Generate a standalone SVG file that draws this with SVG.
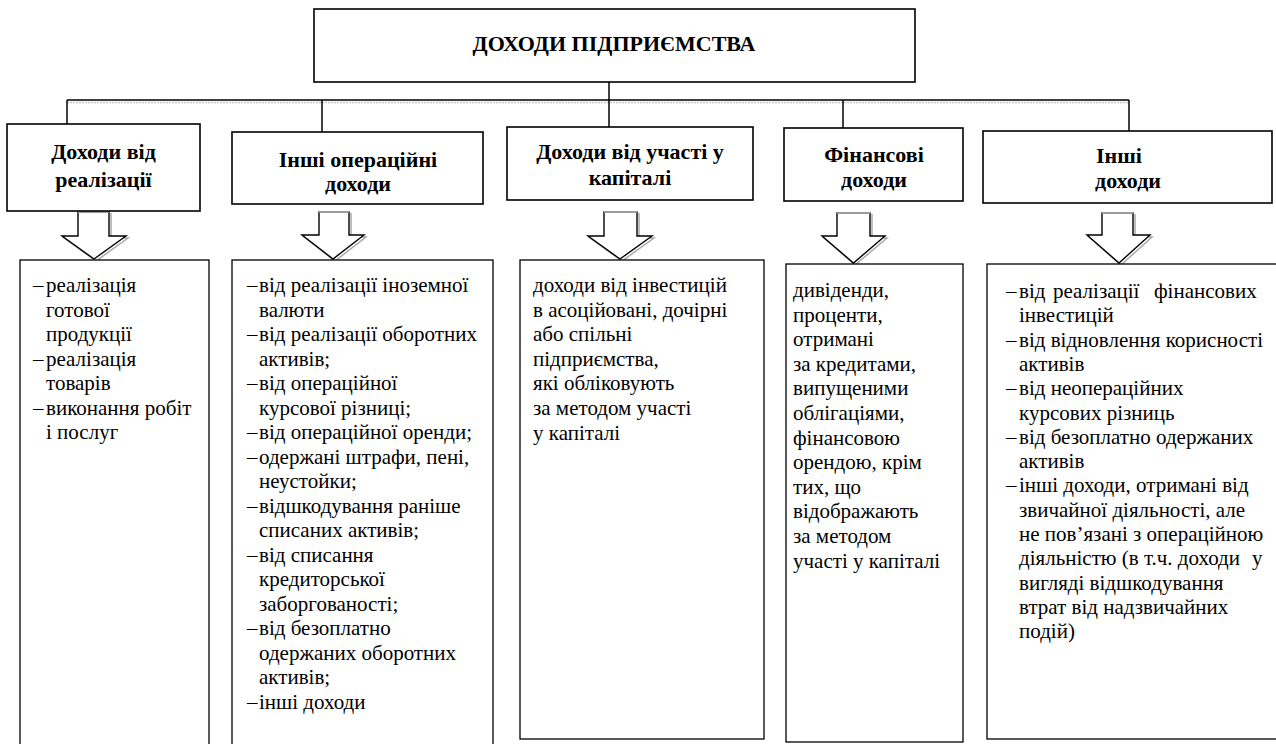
<svg xmlns="http://www.w3.org/2000/svg" width="1276" height="744" viewBox="0 0 1276 744">
<style>
  .bg{fill:#ffffff}
  .box{fill:#ffffff;stroke:#000;stroke-width:1.3}
  .hbox{fill:#ffffff;stroke:#000;stroke-width:1.6}
  .ttl{font-family:"Liberation Serif","Times New Roman",serif;font-size:22px;font-weight:bold;fill:#000;text-anchor:middle}
  .hd{font-family:"Liberation Serif","Times New Roman",serif;font-size:22px;font-weight:bold;fill:#000;text-anchor:middle}
  .tx{font-family:"Liberation Serif","Times New Roman",serif;font-size:21px;fill:#000}
  .ln{stroke:#000;stroke-width:1.5;fill:none}
  .sh{stroke:#c8c8c8;stroke-width:1.5;fill:none;stroke-dasharray:2 1}
  .arr{fill:#ffffff;stroke:#000;stroke-width:1.4;stroke-linejoin:miter}
  .arrsh{fill:none;stroke:#aaaaaa;stroke-width:1.5}
  .arrtop{stroke:#bbbbbb;stroke-width:1.5}
</style>
<rect class="bg" x="0" y="0" width="1276" height="744"/>

<g id="connectors">
  <line class="ln" x1="67" y1="100" x2="1129" y2="100"/>
  <line class="sh" x1="67" y1="102.5" x2="1129" y2="102.5"/>
  <line class="ln" x1="609" y1="82" x2="609" y2="127"/>
  <line class="ln" x1="67" y1="100" x2="67" y2="124"/>
  <line class="ln" x1="322" y1="100" x2="322" y2="132"/>
  <line class="ln" x1="843" y1="100" x2="843" y2="128"/>
  <line class="ln" x1="1129" y1="100" x2="1129" y2="131"/>
  <g id="arrow1">
    <polyline class="arrsh" points="80,213 80,238 64,238 96,261 128,238 111,238 111,213"/>
    <polygon class="arr" points="78,212 78,236 62,236 94,259 126,236 109,236 109,212"/>
    <line class="arrtop" x1="78" y1="212" x2="109" y2="212"/>
  </g>
  <g id="arrow2">
    <polyline class="arrsh" points="321,213 321,237 304,237 335,261 366,237 351,237 351,213"/>
    <polygon class="arr" points="319,212 319,235 302,235 333,259 364,235 349,235 349,212"/>
    <line class="arrtop" x1="319" y1="212" x2="349" y2="212"/>
  </g>
  <g id="arrow3">
    <polyline class="arrsh" points="606,213 606,238 590,238 622,261 654,238 639,238 639,213"/>
    <polygon class="arr" points="604,212 604,236 588,236 620,259 652,236 637,236 637,212"/>
    <line class="arrtop" x1="604" y1="212" x2="637" y2="212"/>
  </g>
  <g id="arrow4">
    <polyline class="arrsh" points="839,214 839,238 824,238 855,265 887,238 872,238 872,214"/>
    <polygon class="arr" points="837,213 837,236 822,236 853.5,263 885,236 870,236 870,213"/>
    <line class="arrtop" x1="837" y1="213" x2="870" y2="213"/>
  </g>
  <g id="arrow5">
    <polyline class="arrsh" points="1104,214 1104,237 1089,237 1121,265 1152,237 1135,237 1135,214"/>
    <polygon class="arr" points="1102,213 1102,235 1087,235 1119,263 1150,235 1133,235 1133,213"/>
    <line class="arrtop" x1="1102" y1="213" x2="1133" y2="213"/>
  </g>
</g>

<g id="root">
  <rect class="hbox" x="314" y="9" width="601" height="73"/>
  <text class="ttl" x="614" y="51">ДОХОДИ ПІДПРИЄМСТВА</text>
</g>

<g id="h1">
  <rect class="hbox" x="7" y="124" width="193" height="87"/>
  <text class="hd" x="103.5" y="159">Доходи від</text>
  <text class="hd" x="103.5" y="187">реалізації</text>
</g>
<g id="h2">
  <rect class="hbox" x="232" y="132" width="251" height="72"/>
  <text class="hd" x="358" y="167">Інші операційні</text>
  <text class="hd" x="358" y="191">доходи</text>
</g>
<g id="h3">
  <rect class="hbox" x="507" y="127" width="246" height="73"/>
  <text class="hd" x="630" y="159">Доходи від участі у</text>
  <text class="hd" x="630" y="185">капіталі</text>
</g>
<g id="h4">
  <rect class="hbox" x="784" y="128" width="179" height="73"/>
  <text class="hd" x="874" y="162">Фінансові</text>
  <text class="hd" x="874" y="187">доходи</text>
</g>
<g id="h5">
  <rect class="hbox" x="983" y="131" width="289" height="72"/>
  <text class="hd" x="1119" y="163">Інші</text>
  <text class="hd" x="1128" y="188">доходи</text>
</g>

<g id="b1">
  <rect class="box" x="20" y="260" width="189" height="492"/>
  <text class="tx"><tspan x="33" y="292">–</tspan><tspan x="46" y="292">реалізація</tspan></text>
  <text class="tx" x="46" y="316.5">готової</text>
  <text class="tx" x="46" y="341">продукції</text>
  <text class="tx"><tspan x="33" y="365.5">–</tspan><tspan x="46" y="365.5">реалізація</tspan></text>
  <text class="tx" x="46" y="390">товарів</text>
  <text class="tx"><tspan x="33" y="414.5">–</tspan><tspan x="46" y="414.5">виконання робіт</tspan></text>
  <text class="tx" x="46" y="439">і послуг</text>
</g>

<g id="b2">
  <rect class="box" x="232" y="260" width="261" height="492"/>
  <text class="tx"><tspan x="247" y="292">–</tspan><tspan x="259" y="292">від реалізації іноземної</tspan></text>
  <text class="tx" x="259" y="316.5">валюти</text>
  <text class="tx"><tspan x="247" y="341">–</tspan><tspan x="259" y="341">від реалізації оборотних</tspan></text>
  <text class="tx" x="259" y="365.5">активів;</text>
  <text class="tx"><tspan x="247" y="390">–</tspan><tspan x="259" y="390">від операційної</tspan></text>
  <text class="tx" x="259" y="414.5">курсової різниці;</text>
  <text class="tx"><tspan x="247" y="439">–</tspan><tspan x="259" y="439">від операційної оренди;</tspan></text>
  <text class="tx"><tspan x="247" y="463.5">–</tspan><tspan x="259" y="463.5">одержані штрафи, пені,</tspan></text>
  <text class="tx" x="259" y="488">неустойки;</text>
  <text class="tx"><tspan x="247" y="512.5">–</tspan><tspan x="259" y="512.5">відшкодування раніше</tspan></text>
  <text class="tx" x="259" y="537">списаних активів;</text>
  <text class="tx"><tspan x="247" y="561.5">–</tspan><tspan x="259" y="561.5">від списання</tspan></text>
  <text class="tx" x="259" y="586">кредиторської</text>
  <text class="tx" x="259" y="610.5">заборгованості;</text>
  <text class="tx"><tspan x="247" y="635">–</tspan><tspan x="259" y="635">від безоплатно</tspan></text>
  <text class="tx" x="259" y="659.5">одержаних оборотних</text>
  <text class="tx" x="259" y="684">активів;</text>
  <text class="tx"><tspan x="247" y="708.5">–</tspan><tspan x="259" y="708.5">інші доходи</tspan></text>
</g>

<g id="b3">
  <rect class="box" x="520" y="260" width="244" height="479"/>
  <text class="tx" x="533" y="292">доходи від інвестицій</text>
  <text class="tx" x="533" y="316.6">в асоційовані, дочірні</text>
  <text class="tx" x="533" y="341.2">або спільні</text>
  <text class="tx" x="533" y="365.8">підприємства,</text>
  <text class="tx" x="533" y="390.4">які обліковують</text>
  <text class="tx" x="533" y="415">за методом участі</text>
  <text class="tx" x="533" y="439.6">у капіталі</text>
</g>

<g id="b4">
  <rect class="box" x="786" y="264" width="177" height="478"/>
  <text class="tx" x="793" y="297">дивіденди,</text>
  <text class="tx" x="793" y="321.6">проценти,</text>
  <text class="tx" x="793" y="346.2">отримані</text>
  <text class="tx" x="793" y="370.8">за кредитами,</text>
  <text class="tx" x="793" y="395.4">випущеними</text>
  <text class="tx" x="793" y="420">облігаціями,</text>
  <text class="tx" x="793" y="444.6">фінансовою</text>
  <text class="tx" x="793" y="469.2">орендою, крім</text>
  <text class="tx" x="793" y="493.8">тих, що</text>
  <text class="tx" x="793" y="518.4">відображають</text>
  <text class="tx" x="793" y="543">за методом</text>
  <text class="tx" x="793" y="567.6">участі у капіталі</text>
</g>

<g id="b5">
  <rect class="box" x="987" y="264" width="292" height="475"/>
  <text class="tx"><tspan x="1006" y="298">–</tspan><tspan x="1019" y="298">від</tspan><tspan x="1053" y="298">реалізації</tspan><tspan x="1154" y="298">фінансових</tspan></text>
  <text class="tx" x="1019" y="322.3">інвестицій</text>
  <text class="tx"><tspan x="1006" y="346.6">–</tspan><tspan x="1019" y="346.6">від відновлення корисності</tspan></text>
  <text class="tx" x="1019" y="370.9">активів</text>
  <text class="tx"><tspan x="1006" y="395.2">–</tspan><tspan x="1019" y="395.2">від неопераційних</tspan></text>
  <text class="tx" x="1019" y="419.5">курсових різниць</text>
  <text class="tx"><tspan x="1006" y="443.8">–</tspan><tspan x="1019" y="443.8">від безоплатно одержаних</tspan></text>
  <text class="tx" x="1019" y="468.1">активів</text>
  <text class="tx"><tspan x="1006" y="492.4">–</tspan><tspan x="1019" y="492.4">інші доходи, отримані від</tspan></text>
  <text class="tx" x="1019" y="516.7">звичайної діяльності, але</text>
  <text class="tx" x="1019" y="541">не пов’язані з операційною</text>
  <text class="tx"><tspan x="1019" y="565.3">діяльністю (в т.ч. доходи</tspan><tspan x="1252" y="565.3">у</tspan></text>
  <text class="tx" x="1019" y="589.6">вигляді відшкодування</text>
  <text class="tx" x="1019" y="613.9">втрат від надзвичайних</text>
  <text class="tx" x="1019" y="638.2">подій)</text>
</g>
</svg>
